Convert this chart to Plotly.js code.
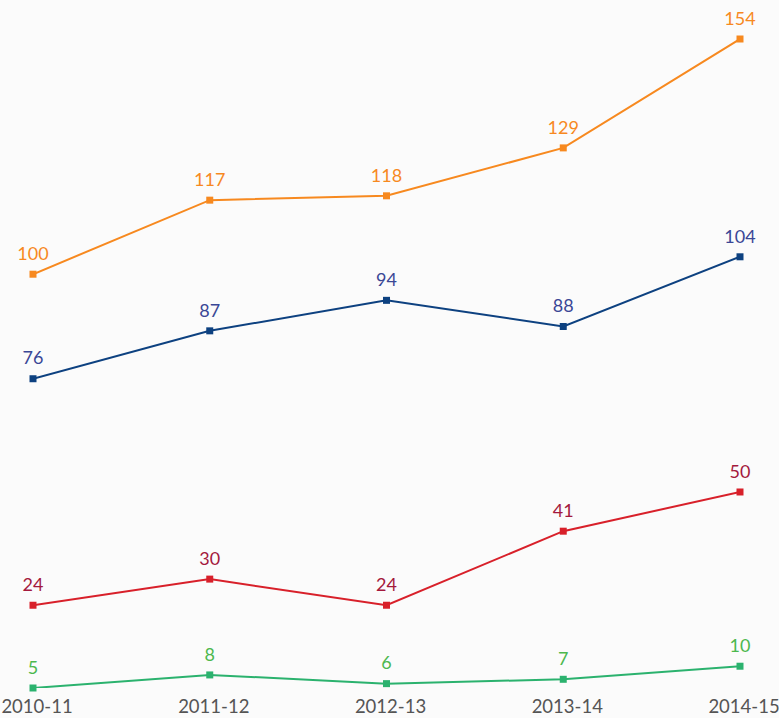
<!DOCTYPE html>
<html>
<head>
<meta charset="utf-8">
<script src="https://cdn.plot.ly/plotly-3.0.1.min.js"></script>
<style>html,body{margin:0;padding:0;background:#fbfbfb;}#chart{width:779px;height:718px;}</style>
</head>
<body>
<div id="chart"></div>
<script>
var years = ["2010-11", "2011-12", "2012-13", "2013-14", "2014-15"];
var seriesOrange = [100, 117, 118, 129, 154];
var seriesBlue = [76, 87, 94, 88, 104];
var seriesRed = [24, 30, 24, 41, 50];
var seriesGreen = [5, 8, 6, 7, 10];

function mkLine(vals, lineColor) {
  return {
    x: years, y: vals, type: 'scatter', mode: 'lines+markers',
    line: {color: lineColor, width: 2},
    marker: {symbol: 'square', size: 7, color: lineColor},
    cliponaxis: false, hoverinfo: 'skip', showlegend: false
  };
}
function mkText(vals, textColor) {
  return {
    x: years, y: vals, type: 'scatter', mode: 'markers+text',
    text: vals.map(String), textposition: 'top center',
    textfont: {family: 'Lato, sans-serif', size: 18, color: textColor},
    marker: {size: 14, opacity: 0, color: textColor},
    cliponaxis: false, hoverinfo: 'skip', showlegend: false
  };
}

var data = [
  mkLine(seriesOrange, '#f7891f'),
  mkLine(seriesBlue, '#0d4180'),
  mkLine(seriesRed, '#d8202a'),
  mkLine(seriesGreen, '#2bb26e'),
  mkText(seriesOrange, '#f7891f'),
  mkText(seriesBlue, '#3a4796'),
  mkText(seriesRed, '#a4193d'),
  mkText(seriesGreen, '#4cb84e')
];

var layout = {
  width: 779, height: 718,
  margin: {l: 33, r: 39, t: 39, b: 30},
  paper_bgcolor: '#fbfbfb', plot_bgcolor: '#fbfbfb',
  xaxis: {type: 'category', range: [0, 4], showgrid: false, zeroline: false, showline: false,
    ticks: '', ticklabelstandoff: 5, ticklabelshift: 4,
    tickfont: {family: 'Lato, sans-serif', size: 18.5, color: '#555555'}, fixedrange: true},
  yaxis: {range: [5, 154], showgrid: false, zeroline: false, showline: false, showticklabels: false, ticks: ''},
  font: {family: 'Lato, sans-serif'}
};
Plotly.newPlot('chart', data, layout, {displayModeBar: false, staticPlot: true});
</script>
</body>
</html>
